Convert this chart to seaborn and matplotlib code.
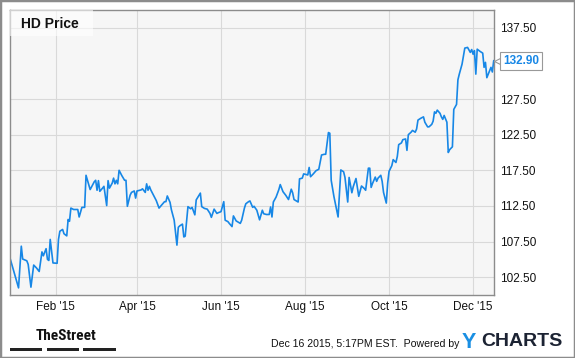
import pandas as pd
import matplotlib.pyplot as plt
from matplotlib.patches import Rectangle
import seaborn as sns

# HD closing prices, day offsets from Jan 1 2015
days = [-2, 4, 6, 7, 10, 11, 13, 15, 17, 19,
        21, 22, 23, 24, 25, 26, 27, 29, 32, 33,
        34, 36, 37, 39, 40, 41, 42, 44, 47, 48,
        50, 52, 53, 56, 59, 60, 61, 62, 63, 65,
        66, 68, 69, 70, 72, 73, 74, 75, 76, 77,
        79, 81, 82, 83, 85, 86, 88, 89, 90, 93,
        94, 96, 97, 98, 99, 100, 103, 104, 106, 108,
        110, 111, 112, 114, 115, 117, 119, 120, 121, 123,
        124, 125, 127, 129, 130, 132, 133, 136, 137, 139,
        141, 143, 144, 146, 148, 149, 151, 153, 154, 156,
        157, 159, 160, 162, 165, 166, 168, 169, 171, 172,
        174, 175, 177, 179, 181, 182, 184, 186, 187, 188,
        189, 191, 193, 194, 196, 198, 200, 202, 203, 204,
        207, 208, 210, 211, 214, 215, 216, 218, 220, 222,
        224, 226, 227, 229, 230, 231, 233, 236, 238, 240,
        241, 243, 244, 246, 247, 249, 251, 253, 255, 256,
        258, 259, 260, 261, 263, 264, 265, 267, 268, 269,
        271, 272, 273, 275, 276, 278, 279, 280, 282, 283,
        285, 286, 287, 289, 290, 292, 293, 294, 296, 298,
        299, 301, 302, 304, 305, 306, 307, 308, 310, 311,
        312, 313, 315, 316, 317, 319, 320, 322, 323, 324,
        326, 328, 330, 331, 332, 333, 334, 335, 336, 337,
        339, 341, 342, 343, 344, 346, 347, 348, 349]
prices = [105.05, 101.0, 106.85, 105.05, 104.8, 104.3, 101.1, 104.2, 103.8, 103.3,
          106.05, 105.5, 106.0, 106.5, 105.0, 104.85, 107.8, 104.5, 104.45, 107.8,
          108.95, 109.2, 108.6, 108.3, 110.6, 110.35, 112.2, 112.0, 112.0, 110.95,
          112.3, 112.3, 116.8, 114.8, 115.9, 116.1, 114.7, 116.05, 114.55, 115.0,
          115.25, 112.55, 116.05, 115.0, 115.7, 116.4, 115.6, 116.1, 115.6, 117.5,
          116.75, 116.1, 116.1, 112.45, 114.0, 114.4, 114.6, 113.6, 114.6, 114.75,
          114.9, 114.4, 115.6, 114.7, 115.25, 114.75, 113.6, 113.25, 112.2, 112.65,
          113.1, 113.1, 113.9, 113.0, 111.95, 110.5, 107.0, 109.5, 109.7, 109.95,
          108.15, 108.25, 112.4, 112.1, 112.3, 111.25, 113.35, 114.3, 112.4, 112.15,
          112.05, 111.45, 110.9, 112.05, 111.45, 111.55, 111.7, 113.1, 110.5, 110.3,
          110.05, 109.6, 111.1, 110.4, 110.05, 110.5, 112.2, 112.8, 113.1, 113.2,
          112.3, 112.45, 111.9, 110.55, 111.9, 111.4, 111.3, 111.3, 112.35, 110.95,
          113.05, 113.75, 114.8, 115.5, 114.5, 114.0, 113.4, 114.85, 114.35, 113.4,
          113.05, 116.3, 116.4, 117.0, 116.85, 117.9, 116.6, 117.0, 117.45, 117.65,
          119.65, 119.75, 119.75, 122.8, 122.7, 116.1, 113.8, 110.95, 117.55, 117.3,
          116.5, 113.05, 116.5, 114.35, 115.2, 116.35, 113.85, 115.3, 114.95, 114.7,
          117.8, 117.8, 115.1, 115.65, 116.55, 115.95, 116.4, 116.8, 115.95, 114.4,
          112.9, 115.7, 117.35, 118.15, 119.0, 118.6, 119.45, 121.1, 121.35, 121.8,
          121.9, 120.3, 122.5, 122.85, 123.1, 122.85, 123.3, 124.55, 124.8, 125.0,
          124.25, 123.6, 123.6, 123.95, 124.4, 125.7, 125.5, 125.95, 125.5, 125.0,
          124.65, 125.2, 124.25, 120.0, 120.4, 120.8, 126.05, 126.75, 130.2, 131.0,
          132.4, 134.65, 134.75, 134.4, 134.05, 134.45, 133.8, 134.3, 131.0, 134.5,
          134.2, 133.95, 131.95, 132.65, 130.5, 131.45, 131.95, 131.3, 132.9]

y_ticks = [102.5, 107.5, 112.5, 117.5, 122.5, 127.5, 137.5]
x_ticks = ['2015-02-01', '2015-04-01', '2015-06-01', '2015-08-01', '2015-10-01', '2015-12-01']
x_labels = ["Feb '15", "Apr '15", "Jun '15", "Aug '15", "Oct '15", "Dec '15"]
last_price = 132.90

start = pd.Timestamp('2015-01-01')
df = pd.DataFrame({'date': start + pd.to_timedelta(days, unit='D'), 'price': prices})

sns.set_style('white')
plt.rcParams['font.family'] = ['Liberation Sans', 'DejaVu Sans']
blue = '#1787e6'
grey = '#8c8c8c'

fig = plt.figure(figsize=(5.75, 3.58), dpi=100)
ax = fig.add_axes([10 / 575, 1 - 295 / 358, 484 / 575, 285 / 358])
ax.set_facecolor('#f6f6f6')

sns.lineplot(data=df, x='date', y='price', ax=ax, color=blue, linewidth=1.2)

ax.set_ylim(100, 140)
ax.set_xlim(start + pd.Timedelta(days=-2.2), start + pd.Timedelta(days=349.2))
ax.set_yticks(y_ticks)
ax.set_yticklabels(['%.2f' % v for v in y_ticks])
ax.set_xticks(pd.to_datetime(x_ticks))
ax.set_xticklabels(x_labels)
ax.yaxis.tick_right()
ax.tick_params(axis='both', length=0, labelsize=8.5, labelcolor='#111111')
ax.tick_params(axis='y', pad=4)
ax.tick_params(axis='x', pad=4)
ax.grid(True, color='#d9d9d9', linewidth=0.8)
ax.set_axisbelow(True)
ax.set_xlabel('')
ax.set_ylabel('')
for s in ax.spines.values():
    s.set_visible(True)
    s.set_color(grey)
    s.set_linewidth(1)

# title box
ax.add_patch(Rectangle((0, 1 - 26 / 285), 83 / 484, 26 / 285, transform=ax.transAxes,
                       facecolor='white', alpha=0.6, edgecolor='none', zorder=3))
ax.text(11 / 484, 1 - 14 / 285, 'HD Price', transform=ax.transAxes, fontsize=10,
        fontweight='bold', color='#111111', va='center', ha='left', zorder=4)

# last price tag
yt = ax.get_yaxis_transform()
ax.plot([1 + 5 / 484], [last_price], marker='<', markersize=7, markerfacecolor='white',
        markeredgecolor='#999999', markeredgewidth=0.8, transform=yt, clip_on=False, zorder=5)
ax.text(1 + 9 / 484, last_price, '%.2f' % last_price, transform=yt, ha='left', va='center',
        color=blue, fontsize=8.5, fontweight='bold', clip_on=False, zorder=6,
        bbox=dict(boxstyle='square,pad=0.25', facecolor='white', edgecolor='#999999', linewidth=0.8))

# footer
fig.text(36 / 575, 1 - 336 / 358, 'TheStreet', fontsize=11, fontweight='bold',
         family=['Roboto Condensed', 'Liberation Sans'], color='#111111', va='center', ha='left')
for x0, x1 in [(10, 42), (47, 79), (83, 116)]:
    fig.patches.append(Rectangle((x0 / 575, 1 - 351 / 358), (x1 - x0) / 575, 3 / 358,
                                 transform=fig.transFigure, facecolor='#222222', edgecolor='none'))
fig.text(459 / 575, 1 - 344 / 358, 'Dec 16 2015, 5:17PM EST.  Powered by', fontsize=7.6,
         color='#111111', ha='right', va='center')
fig.text(462 / 575, 1 - 342 / 358, 'Y', fontsize=15.5, fontweight='bold', color='#1a8fe3',
         ha='left', va='center')
fig.text(481 / 575, 1 - 342 / 358, 'CHARTS', fontsize=14, fontweight='bold', color='#1c2333',
         ha='left', va='center')

# outer border
fig.patches.append(Rectangle((0, 0), 1, 1, transform=fig.transFigure, facecolor='none',
                             edgecolor=grey, linewidth=2.5))

fig.savefig('out.png', dpi=100)
